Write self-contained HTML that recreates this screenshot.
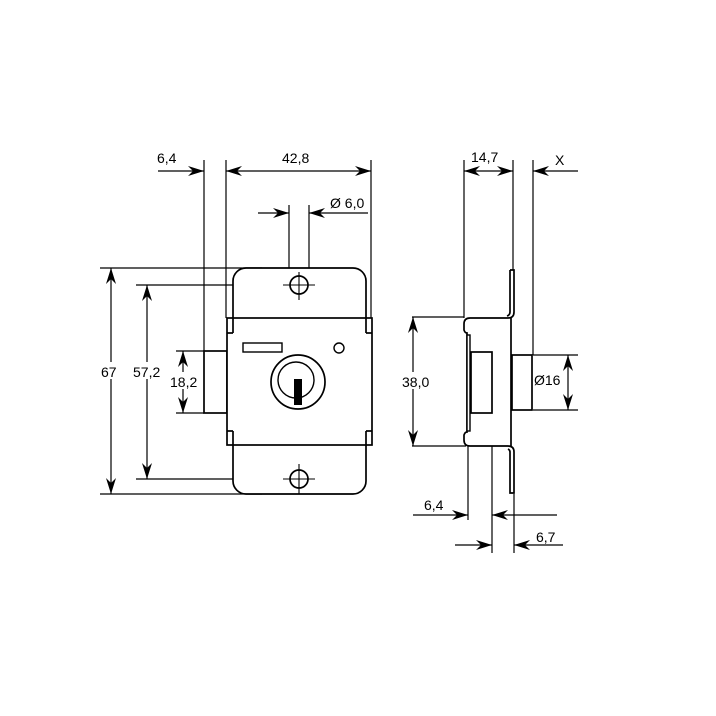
<!DOCTYPE html>
<html><head><style>html,body{margin:0;padding:0;background:#fff}</style></head><body>
<svg width="716" height="716" viewBox="0 0 716 716" xmlns="http://www.w3.org/2000/svg" style="display:block">
<defs>
<marker id="a" viewBox="0 0 16 10" refX="16" refY="5" markerWidth="16" markerHeight="10" markerUnits="userSpaceOnUse" orient="auto"><path d="M0,0 L16,5 L0,10 L5,5 z" fill="#000"/></marker>
<marker id="b" viewBox="0 0 16 10" refX="0" refY="5" markerWidth="16" markerHeight="10" markerUnits="userSpaceOnUse" orient="auto"><path d="M16,0 L0,5 L16,10 L11,5 z" fill="#000"/></marker>
</defs>
<g stroke="#000" fill="none" stroke-width="1.2">
<line x1="204" y1="160" x2="204" y2="351"/>
<line x1="226" y1="160" x2="226" y2="318"/>
<line x1="371" y1="160" x2="371" y2="318"/>
<line x1="289" y1="205" x2="289" y2="290"/>
<line x1="309" y1="205" x2="309" y2="290"/>
<line x1="100" y1="268" x2="262" y2="268"/>
<line x1="136" y1="285" x2="282" y2="285"/>
<line x1="136" y1="479" x2="282" y2="479"/>
<line x1="100" y1="494" x2="262" y2="494"/>
<line x1="176" y1="351" x2="204" y2="351"/>
<line x1="176" y1="413" x2="204" y2="413"/>
<line x1="158" y1="171" x2="204" y2="171" marker-end="url(#a)"/>
<line x1="226" y1="171" x2="371" y2="171" marker-start="url(#b)" marker-end="url(#a)"/>
<line x1="258" y1="213" x2="289" y2="213" marker-end="url(#a)"/>
<line x1="368" y1="213" x2="309" y2="213" marker-end="url(#a)"/>
<line x1="111" y1="268" x2="111" y2="494" marker-start="url(#b)" marker-end="url(#a)"/>
<line x1="147" y1="285" x2="147" y2="479" marker-start="url(#b)" marker-end="url(#a)"/>
<line x1="183" y1="351" x2="183" y2="413" marker-start="url(#b)" marker-end="url(#a)"/>
</g>
<g stroke="#000" fill="#fff" stroke-width="1.7">
<rect x="233" y="268" width="133" height="226" rx="13"/>
<rect x="204" y="351" width="23" height="62"/>
<rect x="227" y="318" width="145" height="127"/>
<line x1="233" y1="318" x2="233" y2="333"/><line x1="227" y1="333" x2="233" y2="333"/>
<line x1="366" y1="318" x2="366" y2="333"/><line x1="372" y1="333" x2="366" y2="333"/>
<line x1="233" y1="445" x2="233" y2="431"/><line x1="227" y1="431" x2="233" y2="431"/>
<line x1="366" y1="445" x2="366" y2="431"/><line x1="372" y1="431" x2="366" y2="431"/>
<circle cx="299" cy="285" r="9"/>
<circle cx="299" cy="479" r="9"/>
<rect x="243" y="343" width="39" height="9" stroke-width="1.4"/>
<circle cx="339" cy="348" r="5" stroke-width="1.4"/>
<circle cx="298" cy="382" r="27"/>
<circle cx="296" cy="380" r="18" stroke-width="1.4"/>
</g>
<rect x="294" y="379" width="8" height="26" fill="#000"/>
<g stroke="#000" stroke-width="1.1">
<line x1="283" y1="285" x2="315" y2="285"/><line x1="299" y1="272" x2="299" y2="300"/>
<line x1="283" y1="479" x2="315" y2="479"/><line x1="299" y1="464" x2="299" y2="494"/>
</g>
<g stroke="#000" fill="none" stroke-width="1.2">
<line x1="464" y1="160" x2="464" y2="318"/>
<line x1="513" y1="160" x2="513" y2="272"/>
<line x1="533" y1="160" x2="533" y2="355"/>
<line x1="412" y1="317" x2="464" y2="317"/>
<line x1="412" y1="446" x2="466" y2="446"/>
<line x1="533" y1="355" x2="578" y2="355"/>
<line x1="533" y1="410" x2="578" y2="410"/>
<line x1="468" y1="446" x2="468" y2="520"/>
<line x1="492" y1="413" x2="492" y2="553"/>
<line x1="514" y1="494" x2="514" y2="553"/>
<line x1="464" y1="171" x2="513" y2="171" marker-start="url(#b)" marker-end="url(#a)"/>
<line x1="578" y1="171" x2="533" y2="171" marker-end="url(#a)"/>
<line x1="413" y1="317" x2="413" y2="446" marker-start="url(#b)" marker-end="url(#a)"/>
<line x1="568" y1="355" x2="568" y2="410" marker-start="url(#b)" marker-end="url(#a)"/>
<line x1="413" y1="515" x2="468" y2="515" marker-end="url(#a)"/>
<line x1="557" y1="515" x2="492" y2="515" marker-end="url(#a)"/>
<line x1="455" y1="545" x2="492" y2="545" marker-end="url(#a)"/>
<line x1="563" y1="545" x2="514" y2="545" marker-end="url(#a)"/>
</g>
<g stroke="#000" fill="#fff" stroke-width="1.7">
<path d="M510,270 L514,270 L514,312 Q514,318 508,318 L470,318 Q464,318 464,324 L464,330 Q465,333 467,333 L467,432 Q465,432 464,435 L464,440 Q464,446 470,446 L508,446 Q514,446 514,452 L514,493 L510,493 L510,452 Q510,450 508,449"/>
<path d="M510,270 L510,312 Q510,315 507,316" fill="none"/>
<line x1="511" y1="318" x2="511" y2="446"/>
<rect x="467" y="335" width="3" height="96" stroke-width="1.4"/>
<rect x="471" y="352" width="21" height="61"/>
<rect x="512" y="355" width="20" height="55"/>
</g>
<g font-family="Liberation Sans, sans-serif" font-size="14" fill="#000">
<text x="157" y="163">6,4</text>
<text x="282" y="163">42,8</text>
<text x="330" y="208">Ø 6,0</text>
<rect x="99" y="362" width="22" height="17" fill="#fff"/>
<text x="101" y="377">67</text>
<rect x="132" y="362" width="31" height="17" fill="#fff"/>
<text x="133" y="377">57,2</text>
<rect x="169" y="372" width="31" height="17" fill="#fff"/>
<text x="170" y="387">18,2</text>
<text x="471" y="162">14,7</text>
<text x="555" y="165">X</text>
<rect x="401" y="372" width="32" height="17" fill="#fff"/>
<text x="402" y="387">38,0</text>
<text x="534" y="385">Ø16</text>
<text x="424" y="510">6,4</text>
<text x="536" y="542">6,7</text>
</g>
</svg>
</body></html>
